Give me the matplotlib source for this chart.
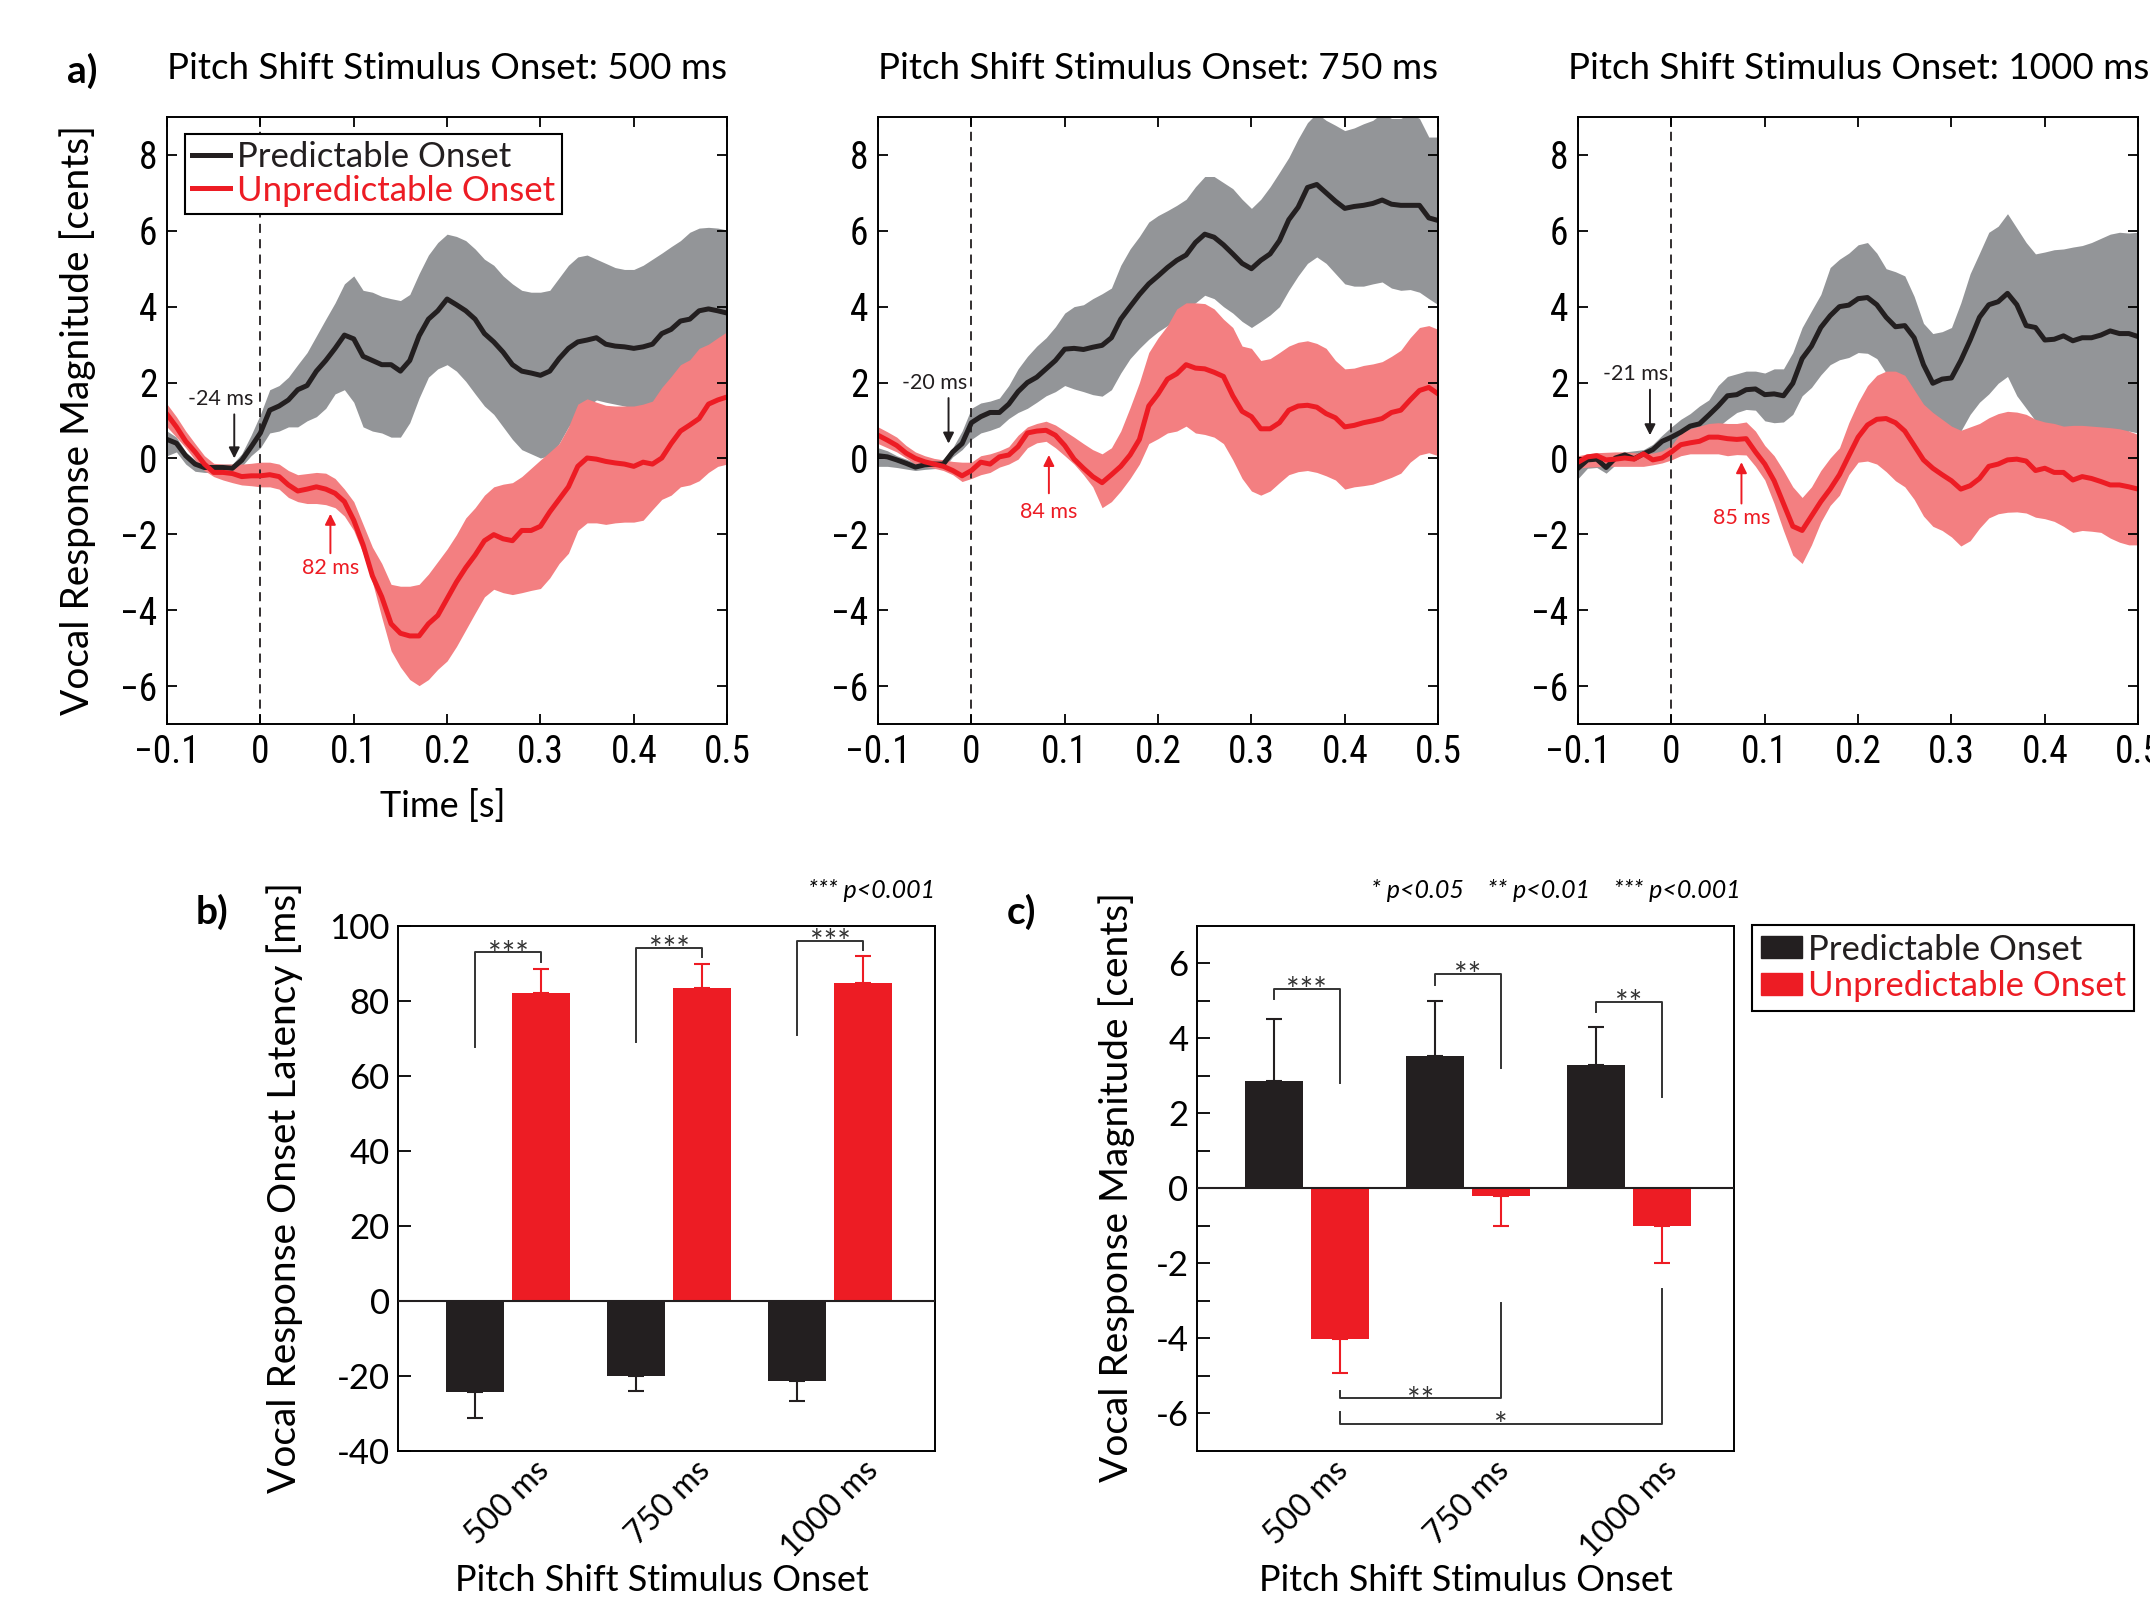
import numpy as np
import matplotlib
matplotlib.use("Agg")
import matplotlib.pyplot as plt
from matplotlib import font_manager
from matplotlib.lines import Line2D
from matplotlib.patches import Patch

# ---- panel a: time courses (mean and band edges, sampled every 10 ms) ----
time_s = np.linspace(-0.1, 0.5, 61)

p500_mean = [0.50, 0.40, 0.07, -0.15, -0.24, -0.24, -0.24, -0.26, -0.05, 0.30,
             0.67, 1.27, 1.38, 1.54, 1.81, 1.92, 2.30, 2.58, 2.90, 3.25,
             3.15, 2.69, 2.58, 2.47, 2.47, 2.30, 2.58, 3.23, 3.67, 3.89,
             4.20, 4.05, 3.89, 3.67, 3.29, 3.07, 2.80, 2.47, 2.30, 2.25,
             2.19, 2.30, 2.63, 2.90, 3.07, 3.12, 3.18, 3.01, 2.96, 2.94,
             2.90, 2.94, 3.01, 3.29, 3.40, 3.62, 3.67, 3.89, 3.94, 3.89,
             3.83]
p500_hi = [0.72, 0.56, 0.17, -0.04, -0.15, -0.15, -0.15, -0.15, 0.12, 0.61,
           1.16, 1.81, 1.92, 2.14, 2.47, 2.79, 3.23, 3.67, 4.10, 4.60,
           4.81, 4.43, 4.38, 4.27, 4.21, 4.16, 4.32, 4.87, 5.36, 5.69,
           5.91, 5.85, 5.74, 5.52, 5.25, 5.09, 4.81, 4.60, 4.43, 4.38,
           4.38, 4.43, 4.76, 5.09, 5.31, 5.36, 5.25, 5.14, 5.03, 4.98,
           4.98, 5.09, 5.25, 5.41, 5.58, 5.74, 5.96, 6.07, 6.09, 6.07,
           6.02]
p500_lo = [0.07, 0.17, -0.15, -0.34, -0.37, -0.37, -0.37, -0.37, -0.21, 0.07,
           0.28, 0.67, 0.72, 0.83, 0.83, 0.99, 1.10, 1.32, 1.70, 1.81,
           1.48, 0.83, 0.72, 0.67, 0.56, 0.56, 0.94, 1.59, 2.14, 2.36,
           2.47, 2.30, 2.03, 1.70, 1.38, 1.16, 0.83, 0.50, 0.23, 0.12,
           0.01, 0.07, 0.39, 0.83, 1.16, 1.38, 1.54, 1.48, 1.43, 1.38,
           1.32, 1.38, 1.43, 1.65, 1.81, 1.92, 2.14, 2.25, 2.30, 2.25,
           2.19]
u500_mean = [1.16, 0.83, 0.45, 0.17, -0.15, -0.37, -0.37, -0.40, -0.48, -0.46,
             -0.46, -0.43, -0.48, -0.70, -0.86, -0.81, -0.75, -0.81, -0.92, -1.14,
             -1.63, -2.28, -3.10, -3.65, -4.36, -4.61, -4.68, -4.68, -4.36, -4.14,
             -3.70, -3.26, -2.88, -2.55, -2.17, -2.01, -2.12, -2.17, -1.90, -1.90,
             -1.79, -1.41, -1.08, -0.75, -0.21, 0.01, -0.02, -0.08, -0.12, -0.15,
             -0.21, -0.10, -0.15, 0.01, 0.39, 0.72, 0.88, 1.05, 1.43, 1.54,
             1.62]
u500_hi = [1.43, 1.10, 0.72, 0.39, 0.07, -0.13, -0.15, -0.15, -0.15, -0.13,
           -0.10, -0.10, -0.15, -0.32, -0.43, -0.40, -0.37, -0.39, -0.53, -0.81,
           -1.14, -1.74, -2.34, -2.77, -3.32, -3.37, -3.37, -3.32, -3.05, -2.72,
           -2.39, -2.01, -1.57, -1.30, -0.97, -0.75, -0.68, -0.64, -0.48, -0.26,
           -0.04, 0.17, 0.39, 0.83, 1.43, 1.57, 1.48, 1.40, 1.38, 1.38,
           1.38, 1.43, 1.51, 1.87, 2.16, 2.47, 2.60, 2.90, 3.01, 3.18,
           3.34]
u500_lo = [0.83, 0.56, 0.28, -0.04, -0.32, -0.48, -0.57, -0.64, -0.70, -0.72,
           -0.75, -0.75, -0.81, -1.03, -1.14, -1.19, -1.19, -1.22, -1.30, -1.52,
           -1.90, -2.50, -3.26, -4.19, -5.07, -5.50, -5.83, -5.99, -5.83, -5.56,
           -5.34, -4.96, -4.52, -4.08, -3.65, -3.45, -3.54, -3.59, -3.54, -3.48,
           -3.43, -3.15, -2.77, -2.50, -1.90, -1.70, -1.70, -1.74, -1.70, -1.68,
           -1.68, -1.63, -1.35, -1.08, -0.97, -0.75, -0.70, -0.59, -0.37, -0.21,
           -0.15]

p750_mean = [0.07, 0.04, -0.04, -0.13, -0.23, -0.17, -0.15, -0.15, 0.17, 0.39,
             0.94, 1.10, 1.21, 1.21, 1.43, 1.76, 2.00, 2.14, 2.36, 2.58,
             2.88, 2.90, 2.87, 2.93, 2.98, 3.18, 3.67, 4.00, 4.32, 4.60,
             4.81, 5.03, 5.22, 5.36, 5.69, 5.91, 5.83, 5.63, 5.39, 5.14,
             5.00, 5.22, 5.39, 5.74, 6.29, 6.62, 7.14, 7.22, 7.00, 6.78,
             6.59, 6.64, 6.67, 6.72, 6.81, 6.70, 6.67, 6.67, 6.67, 6.34,
             6.27]
p750_hi = [0.28, 0.20, 0.07, -0.02, -0.12, -0.11, -0.09, -0.02, 0.28, 0.72,
           1.32, 1.46, 1.51, 1.59, 1.92, 2.36, 2.69, 2.96, 3.18, 3.47,
           3.83, 4.00, 4.05, 4.21, 4.34, 4.49, 5.09, 5.52, 5.85, 6.23,
           6.40, 6.53, 6.67, 6.83, 7.16, 7.43, 7.43, 7.27, 7.11, 6.83,
           6.59, 6.83, 7.16, 7.54, 7.93, 8.42, 8.85, 9.10, 8.91, 8.78,
           8.64, 8.71, 8.82, 8.91, 9.10, 8.96, 8.96, 9.10, 8.96, 8.47,
           8.47]
p750_lo = [-0.21, -0.21, -0.24, -0.28, -0.32, -0.29, -0.27, -0.26, 0.04, 0.23,
           0.50, 0.67, 0.74, 0.83, 1.05, 1.21, 1.32, 1.48, 1.65, 1.76,
           1.92, 1.83, 1.76, 1.68, 1.64, 1.81, 2.25, 2.63, 2.90, 3.14,
           3.34, 3.50, 3.67, 3.89, 4.10, 4.30, 4.21, 4.00, 3.83, 3.61,
           3.45, 3.61, 3.78, 4.00, 4.43, 4.81, 5.14, 5.31, 5.14, 4.87,
           4.60, 4.54, 4.54, 4.60, 4.65, 4.49, 4.43, 4.45, 4.38, 4.21,
           4.05]
u750_mean = [0.61, 0.48, 0.34, 0.14, 0.00, -0.09, -0.15, -0.21, -0.32, -0.46,
             -0.32, -0.10, -0.15, 0.04, 0.09, 0.31, 0.67, 0.72, 0.74, 0.61,
             0.34, -0.02, -0.26, -0.48, -0.64, -0.43, -0.21, 0.09, 0.50, 1.38,
             1.70, 2.09, 2.23, 2.47, 2.38, 2.36, 2.27, 2.16, 1.65, 1.24,
             1.10, 0.78, 0.78, 0.94, 1.27, 1.38, 1.40, 1.35, 1.18, 1.07,
             0.83, 0.87, 0.94, 0.99, 1.05, 1.21, 1.27, 1.54, 1.79, 1.87,
             1.70]
u750_hi = [0.83, 0.70, 0.56, 0.34, 0.17, 0.07, 0.00, -0.04, -0.08, -0.10,
           -0.10, 0.07, 0.12, 0.20, 0.31, 0.61, 0.83, 0.92, 0.98, 0.88,
           0.72, 0.56, 0.39, 0.23, 0.12, 0.28, 0.72, 1.34, 2.00, 2.79,
           3.18, 3.50, 3.94, 4.10, 4.10, 4.08, 3.94, 3.67, 3.45, 2.96,
           2.90, 2.58, 2.63, 2.79, 2.96, 3.06, 3.10, 3.03, 2.90, 2.58,
           2.36, 2.38, 2.45, 2.49, 2.55, 2.69, 2.85, 3.18, 3.45, 3.50,
           3.40]
u750_lo = [0.39, 0.28, 0.17, 0.01, -0.15, -0.21, -0.26, -0.32, -0.43, -0.61,
           -0.53, -0.43, -0.37, -0.23, -0.15, -0.02, 0.28, 0.41, 0.45, 0.28,
           0.07, -0.15, -0.43, -0.75, -1.30, -1.14, -0.86, -0.53, -0.15, 0.39,
           0.52, 0.67, 0.72, 0.85, 0.67, 0.63, 0.56, 0.39, -0.04, -0.53,
           -0.86, -0.97, -0.86, -0.64, -0.43, -0.35, -0.32, -0.37, -0.46, -0.57,
           -0.81, -0.75, -0.72, -0.68, -0.59, -0.50, -0.39, -0.10, 0.09, 0.15,
           0.07]

p1000_mean = [-0.26, -0.04, -0.02, -0.24, 0.01, 0.09, -0.01, 0.12, 0.23, 0.45,
              0.56, 0.69, 0.85, 0.91, 1.14, 1.38, 1.65, 1.68, 1.81, 1.83,
              1.68, 1.70, 1.65, 1.98, 2.63, 2.96, 3.45, 3.76, 4.00, 4.04,
              4.21, 4.24, 4.05, 3.72, 3.47, 3.50, 3.18, 2.47, 1.98, 2.09,
              2.12, 2.58, 3.12, 3.72, 4.05, 4.13, 4.35, 4.05, 3.50, 3.45,
              3.12, 3.14, 3.23, 3.10, 3.18, 3.18, 3.25, 3.36, 3.29, 3.29,
              3.21]
p1000_hi = [-0.04, 0.09, 0.15, 0.09, 0.12, 0.17, 0.20, 0.23, 0.37, 0.61,
            0.83, 1.03, 1.18, 1.38, 1.54, 1.92, 2.16, 2.23, 2.30, 2.30,
            2.25, 2.36, 2.36, 2.79, 3.45, 3.89, 4.32, 5.03, 5.25, 5.41,
            5.63, 5.69, 5.41, 5.00, 4.92, 4.81, 4.27, 3.56, 3.29, 3.34,
            3.45, 4.10, 4.87, 5.41, 5.96, 6.12, 6.45, 6.07, 5.69, 5.39,
            5.44, 5.50, 5.52, 5.57, 5.61, 5.69, 5.80, 5.91, 5.96, 5.94,
            5.96]
p1000_lo = [-0.53, -0.26, -0.24, -0.39, -0.17, -0.15, -0.13, -0.07, 0.01, 0.15,
            0.28, 0.41, 0.50, 0.59, 0.70, 0.83, 1.03, 1.21, 1.29, 1.27,
            0.99, 0.94, 0.96, 1.16, 1.65, 1.87, 2.20, 2.47, 2.60, 2.66,
            2.79, 2.77, 2.63, 2.25, 1.92, 1.65, 1.32, 0.83, 0.61, 0.52,
            0.41, 0.72, 1.16, 1.48, 1.70, 1.98, 2.16, 1.65, 1.32, 0.99,
            0.78, 0.72, 0.74, 0.78, 0.72, 0.72, 0.70, 0.63, 0.61, 0.72,
            0.67]
u1000_mean = [-0.10, 0.04, 0.07, -0.04, -0.02, 0.01, -0.02, 0.12, -0.04, 0.01,
              0.17, 0.36, 0.41, 0.45, 0.56, 0.56, 0.52, 0.50, 0.52, 0.17,
              -0.15, -0.59, -1.19, -1.79, -1.90, -1.52, -1.14, -0.81, -0.43, 0.07,
              0.56, 0.88, 1.03, 1.05, 0.94, 0.72, 0.34, -0.04, -0.26, -0.43,
              -0.59, -0.81, -0.72, -0.53, -0.21, -0.15, -0.04, -0.02, -0.07, -0.32,
              -0.26, -0.37, -0.37, -0.57, -0.48, -0.53, -0.61, -0.70, -0.70, -0.75,
              -0.81]
u1000_hi = [0.07, 0.12, 0.15, 0.16, 0.17, 0.17, 0.15, 0.13, 0.14, 0.20,
            0.34, 0.67, 0.78, 0.85, 0.92, 0.94, 0.92, 0.92, 0.96, 0.72,
            0.34, 0.07, -0.32, -0.75, -1.03, -0.75, -0.32, 0.01, 0.28, 0.94,
            1.48, 1.92, 2.19, 2.30, 2.30, 2.19, 1.81, 1.43, 1.21, 1.03,
            0.85, 0.74, 0.83, 0.92, 1.07, 1.18, 1.24, 1.22, 1.16, 1.03,
            0.96, 0.92, 0.85, 0.87, 0.87, 0.85, 0.83, 0.81, 0.78, 0.72,
            0.63]
u1000_lo = [-0.26, -0.23, -0.22, -0.21, -0.21, -0.21, -0.21, -0.21, -0.17, -0.12,
            -0.04, 0.07, 0.12, 0.12, 0.12, 0.12, 0.07, 0.10, 0.09, -0.21,
            -0.57, -1.19, -1.90, -2.55, -2.77, -2.28, -1.68, -1.24, -0.97, -0.43,
            -0.10, -0.07, -0.15, -0.35, -0.59, -0.75, -1.08, -1.52, -1.79, -1.90,
            -2.07, -2.31, -2.17, -1.84, -1.57, -1.46, -1.42, -1.41, -1.44, -1.55,
            -1.59, -1.66, -1.79, -1.95, -1.90, -1.92, -1.95, -2.10, -2.21, -2.28,
            -2.28]

onset_titles = ["Pitch Shift Stimulus Onset: 500 ms",
                "Pitch Shift Stimulus Onset: 750 ms",
                "Pitch Shift Stimulus Onset: 1000 ms"]

# onset markers: (label, arrow time, arrow tail y, arrow head y, text y)
pred_marks = [("-24 ms", -0.028, 1.16, 0.0, 1.57),
              ("-20 ms", -0.0245, 1.59, 0.39, 1.98),
              ("-21 ms", -0.023, 1.81, 0.61, 2.23)]
unpred_marks = [("82 ms", 0.075, -2.50, -1.46, -2.88),
                ("84 ms", 0.083, -0.92, 0.09, -1.41),
                ("85 ms", 0.075, -1.19, -0.10, -1.57)]

# ---- panel b: onset latency [ms] ----
onset_groups = ["500 ms", "750 ms", "1000 ms"]
lat_pred = [-24.2, -20.0, -21.3]
lat_pred_err = [7.0, 4.1, 5.3]
lat_unpred = [82.0, 83.5, 84.7]
lat_unpred_err = [6.6, 6.4, 7.2]
lat_brk_top = [93.0, 94.2, 96.1]
lat_brk_left = [67.7, 69.0, 70.8]
lat_brk_right = [90.4, 91.7, 93.6]

# ---- panel c: response magnitude [cents] ----
mag_pred = [2.87, 3.54, 3.30]
mag_pred_err = [1.66, 1.47, 1.00]
mag_unpred = [-4.02, -0.20, -1.00]
mag_unpred_err = [0.91, 0.80, 1.00]
mag_brk_top = [5.33, 5.73, 4.98]
mag_brk_left = [5.04, 5.42, 4.70]
mag_brk_right = [2.81, 3.21, 2.45]
mag_brk_stars = ["***", "**", "**"]
# between-onset comparisons of unpredictable responses
mag_cmp_pairs = [(0, 1), (0, 2)]
mag_cmp_y = [-5.60, -6.27]
mag_cmp_left = [-5.39, -5.95]
mag_cmp_right = [-3.05, -2.67]
mag_cmp_stars = ["**", "*"]

BLACK = "#231F20"
RED = "#ED1C24"
GREY_BAND = "#939598"
RED_BAND = "#F37F81"
BRACKET = "#333333"

names = {f.name for f in font_manager.fontManager.ttflist}


def pick(*cands):
    for c in cands:
        if c in names:
            return c
    return "DejaVu Sans"


MAIN = pick("Lato", "Open Sans", "Noto Sans")
NARROW = pick("Liberation Sans Narrow", "Roboto Condensed", "Open Sans Condensed", MAIN)
plt.rcParams["font.family"] = [MAIN, "DejaVu Sans"]
plt.rcParams["axes.linewidth"] = 1.4

fig = plt.figure(figsize=(21.5, 16.02), dpi=100)

# ---------------- panel a ----------------
traces = [(p500_mean, p500_lo, p500_hi, u500_mean, u500_lo, u500_hi),
          (p750_mean, p750_lo, p750_hi, u750_mean, u750_lo, u750_hi),
          (p1000_mean, p1000_lo, p1000_hi, u1000_mean, u1000_lo, u1000_hi)]
a_lefts = [0.0777, 0.4084, 0.7340]
axes_a = []
for i, (pm, plo, phi, um, ulo, uhi) in enumerate(traces):
    ax = fig.add_axes([a_lefts[i], 0.5481, 0.2605, 0.3789])
    axes_a.append(ax)
    ax.fill_between(time_s, plo, phi, color=GREY_BAND, lw=0)
    ax.fill_between(time_s, ulo, uhi, color=RED_BAND, lw=0)
    ax.plot(time_s, pm, color=BLACK, lw=3.6, solid_joinstyle="round")
    ax.plot(time_s, um, color=RED, lw=3.6, solid_joinstyle="round")
    ax.axvline(0, color=BLACK, lw=1.3, ls=(0, (5, 3.5)), zorder=1)
    ax.set_xlim(-0.1, 0.5)
    ax.set_ylim(-7, 9)
    ax.set_xticks([-0.1, 0, 0.1, 0.2, 0.3, 0.4, 0.5])
    ax.set_xticklabels(["\u22120.1", "0", "0.1", "0.2", "0.3", "0.4", "0.5"])
    ax.set_yticks([-6, -4, -2, 0, 2, 4, 6, 8])
    ax.set_yticklabels(["\u22126", "\u22124", "\u22122", "0", "2", "4", "6", "8"])
    ax.tick_params(direction="in", top=True, right=True, length=7, width=1.3,
                   labelsize=27, pad=7)
    for lab in ax.get_xticklabels() + ax.get_yticklabels():
        lab.set_family(NARROW)

    lab, tx, ty0, ty1, tyt = pred_marks[i]
    ax.annotate("", xy=(tx, ty1), xytext=(tx, ty0),
                arrowprops=dict(arrowstyle="-|>", color=BLACK, lw=1.4,
                                mutation_scale=16, shrinkA=0, shrinkB=0))
    ax.text(tx - 0.015, tyt, lab, color=BLACK, fontsize=15.5, ha="center", va="center")
    lab, tx, ty0, ty1, tyt = unpred_marks[i]
    ax.annotate("", xy=(tx, ty1), xytext=(tx, ty0),
                arrowprops=dict(arrowstyle="-|>", color=RED, lw=1.4,
                                mutation_scale=16, shrinkA=0, shrinkB=0))
    ax.text(tx, tyt, lab, color=RED, fontsize=15.5, ha="center", va="center")

    fig.text(a_lefts[i] + 0.2605 / 2, 0.957, onset_titles[i], fontsize=26.5,
             ha="center", va="center")

leg = axes_a[0].legend([Line2D([], [], color=BLACK, lw=3.6), Line2D([], [], color=RED, lw=3.6)],
                       ["Predictable Onset", "Unpredictable Onset"],
                       loc="upper left", bbox_to_anchor=(0.032, 0.972), borderaxespad=0,
                       fancybox=False, edgecolor="black", framealpha=1, fontsize=25,
                       handlelength=1.1, handletextpad=0.2, borderpad=0.2,
                       labelspacing=0.05)
leg.get_frame().set_linewidth(1.5)
for t, c in zip(leg.get_texts(), [BLACK, RED]):
    t.set_color(c)

fig.text(0.0381, 0.9557, "a)", fontsize=28, fontweight="bold", ha="center", va="center")
fig.text(0.0363, 0.738, "Vocal Response Magnitude [cents]", fontsize=28,
         rotation=90, ha="center", va="center")
fig.text(0.206, 0.497, "Time [s]", fontsize=26, ha="center", va="center")

# ---------------- panels b and c ----------------
x = np.arange(1, len(onset_groups) + 1)
off = 0.207
bw = 0.36


def bar_panel(ax, pred, pred_err, unpred, unpred_err):
    ax.bar(x - off, pred, width=bw, color=BLACK, zorder=2)
    ax.bar(x + off, unpred, width=bw, color=RED, zorder=2)
    pe = np.array(pred_err)
    ue = np.array(unpred_err)
    p_low = np.where(np.array(pred) < 0, pe, 0)
    p_up = np.where(np.array(pred) < 0, 0, pe)
    u_low = np.where(np.array(unpred) < 0, ue, 0)
    u_up = np.where(np.array(unpred) < 0, 0, ue)
    ax.errorbar(x - off, pred, yerr=[p_low, p_up], fmt="none", ecolor=BLACK,
                elinewidth=1.5, capsize=6, capthick=1.5, zorder=1)
    ax.errorbar(x + off, unpred, yerr=[u_low, u_up], fmt="none", ecolor=RED,
                elinewidth=1.5, capsize=6, capthick=1.5, zorder=1)
    ax.axhline(0, color=BLACK, lw=1.5, zorder=3)
    ax.set_xlim(0.317, 3.652)
    ax.set_xticks(x)
    ax.tick_params(axis="x", length=0, pad=3)
    ax.tick_params(axis="y", direction="in", length=9, width=1.3, labelsize=25, pad=6)


def stars(ax, xm, y, s, below=False):
    ax.annotate(s, xy=(xm, y), xytext=(0, 8 if below else -9), textcoords="offset points",
                ha="center", va="top" if below else "baseline", fontsize=23, color=BRACKET)


# b
axb = fig.add_axes([0.1851, 0.0943, 0.2498, 0.3277])
bar_panel(axb, lat_pred, lat_pred_err, lat_unpred, lat_unpred_err)
axb.set_ylim(-40, 100)
axb.set_yticks([-40, -20, 0, 20, 40, 60, 80, 100])
axb.set_yticklabels(["-40", "-20", "0", "20", "40", "60", "80", "100"])
axb.set_xticklabels(onset_groups, rotation=45, ha="center", fontsize=23)
for i in range(len(x)):
    xl, xr = x[i] - off, x[i] + off
    axb.plot([xl, xl, xr, xr], [lat_brk_left[i], lat_brk_top[i], lat_brk_top[i], lat_brk_right[i]],
             color=BRACKET, lw=1.4)
    stars(axb, (xl + xr) / 2, lat_brk_top[i], "***")
fig.text(0.435, 0.444, "*** p<0.001", fontsize=18, style="italic", ha="right", va="center")
fig.text(0.0986, 0.4307, "b)", fontsize=28, fontweight="bold", ha="center", va="center")
fig.text(0.1326, 0.259, "Vocal Response Onset Latency [ms]", fontsize=28,
         rotation=90, ha="center", va="center")
fig.text(0.308, 0.003, "Pitch Shift Stimulus Onset", fontsize=26, ha="center", va="bottom")

# c
axc = fig.add_axes([0.5567, 0.0943, 0.2498, 0.3277])
bar_panel(axc, mag_pred, mag_pred_err, mag_unpred, mag_unpred_err)
axc.set_ylim(-7, 7)
axc.set_yticks([-6, -4, -2, 0, 2, 4, 6])
axc.set_yticklabels(["-6", "-4", "-2", "0", "2", "4", "6"])
axc.set_yticks([-5, -3, -1, 1, 3, 5], minor=True)
axc.tick_params(axis="y", which="minor", direction="in", length=9, width=1.3)
axc.set_xticklabels(onset_groups, rotation=45, ha="center", fontsize=23)
for i in range(len(x)):
    xl, xr = x[i] - off, x[i] + off
    axc.plot([xl, xl, xr, xr], [mag_brk_left[i], mag_brk_top[i], mag_brk_top[i], mag_brk_right[i]],
             color=BRACKET, lw=1.4)
    stars(axc, (xl + xr) / 2, mag_brk_top[i], mag_brk_stars[i])
for (g0, g1), yb, yl, yr, s in zip(mag_cmp_pairs, mag_cmp_y, mag_cmp_left, mag_cmp_right, mag_cmp_stars):
    xl, xr = x[g0] + off, x[g1] + off
    axc.plot([xl, xl, xr, xr], [yl, yb, yb, yr], color=BRACKET, lw=1.4)
    stars(axc, (xl + xr) / 2, yb, s, below=True)
fig.text(0.7237, 0.444, "* p<0.05    ** p<0.01    *** p<0.001", fontsize=18,
         style="italic", ha="center", va="center")
fig.text(0.4753, 0.4307, "c)", fontsize=28, fontweight="bold", ha="center", va="center")
fig.text(0.5195, 0.259, "Vocal Response Magnitude [cents]", fontsize=28,
         rotation=90, ha="center", va="center")
fig.text(0.6816, 0.003, "Pitch Shift Stimulus Onset", fontsize=26, ha="center", va="bottom")

legc = fig.legend([Patch(color=BLACK), Patch(color=RED)],
                  ["Predictable Onset", "Unpredictable Onset"],
                  loc="upper left", bbox_to_anchor=(0.8149, 0.4226), borderaxespad=0,
                  fancybox=False, edgecolor="black", framealpha=1, fontsize=25,
                  handlelength=1.2, handleheight=0.6, handletextpad=0.15,
                  borderpad=0.25, labelspacing=0.12)
legc.get_frame().set_linewidth(1.5)
for t, c in zip(legc.get_texts(), [BLACK, RED]):
    t.set_color(c)

fig.savefig("out.png", dpi=100)
